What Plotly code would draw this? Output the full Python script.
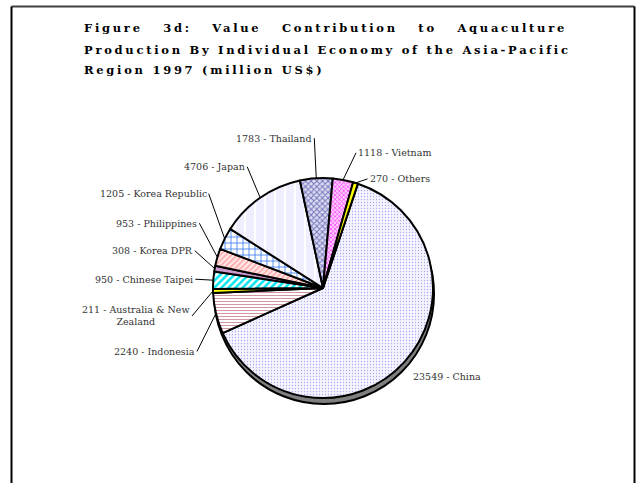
import math
import plotly.graph_objects as go

# ---------------- data ----------------
economies = ["China", "Indonesia", "Australia & New Zealand", "Chinese Taipei",
             "Korea DPR", "Philippines", "Korea Republic", "Japan",
             "Thailand", "Vietnam", "Others"]
values = [23549, 2240, 211, 950, 308, 953, 1205, 4706, 1783, 1118, 270]
title_lines = ["Figure 3d: Value Contribution to Aquaculture",
               "Production By Individual Economy of the Asia-Pacific",
               "Region 1997 (million US$)"]

# ---------------- styles ----------------
W, H = 640, 483
CX, CY, R = 323, 288, 110          # pie centre / radius in pixels
ROT = 18.5                         # start angle of first slice (deg, clockwise)

bg = ["#f4f4ff", "#ffffff", "#ffff00", "#ffffff", "#cc99cc", "#ffe6e6",
      "#ffffff", "#eeeeff", "#dcdcf4", "#ffccff", "#ffff00"]
shape = [".", "-", "", "/", "", "/", "+", "|", "x", "x", ""]
fg = ["#aaaaee", "#cc8899", "#ffff00", "#00e5ee", "#cc99cc", "#ff9999",
      "#3377ee", "#ffffff", "#7777bb", "#ff44ff", "#ffff00"]
psize = [3, 3, 8, 5, 8, 4, 6, 10, 4, 3, 8]
solid = [0.15, 0.3, 0.3, 0.5, 0.3, 0.3, 0.25, 0.2, 0.45, 0.45, 0.3]

# label offsets (pixels, text anchor relative to slice edge point)
label_style = {
    "China": dict(ax=6, ay=15, xanchor="left", arrow=False),
    "Indonesia": dict(ax=-19, ay=38, xanchor="right", arrow=True),
    "Australia & New Zealand": dict(ax=-21, ay=25, xanchor="right", arrow=True),
    "Chinese Taipei": dict(ax=-18, ay=-1, xanchor="right", arrow=True),
    "Korea DPR": dict(ax=-20, ay=-18, xanchor="right", arrow=True),
    "Philippines": dict(ax=-18, ay=-34, xanchor="right", arrow=True),
    "Korea Republic": dict(ax=-16, ay=-45, xanchor="right", arrow=True),
    "Japan": dict(ax=-13, ay=-31, xanchor="right", arrow=True),
    "Thailand": dict(ax=-2, ay=-40, xanchor="right", arrow=True),
    "Vietnam": dict(ax=13, ay=-27, xanchor="left", arrow=True),
    "Others": dict(ax=12, ay=-4, xanchor="left", arrow=True),
}
display_name = {"Australia & New Zealand": "Australia & New<br>Zealand"}

def px2paper(x, y):
    return x / W, (H - y) / H

fig = go.Figure()

# shadow pie
sx0, sy0 = px2paper(CX - R + 1, CY + R + 6)
sx1, sy1 = px2paper(CX + R + 1, CY - R + 6)
fig.add_trace(go.Pie(
    values=[sum(values)], labels=["shadow"], sort=False,
    marker=dict(colors=["#7f7f7f"], line=dict(color="#000000", width=2)),
    textinfo="none", hoverinfo="skip", showlegend=False,
    domain=dict(x=[sx0, sx1], y=[sy0, sy1]),
))

# main pie
x0, y0 = px2paper(CX - R, CY + R)
x1, y1 = px2paper(CX + R, CY - R)
fig.add_trace(go.Pie(
    labels=economies, values=values, sort=False, direction="clockwise",
    rotation=ROT,
    marker=dict(colors=bg, line=dict(color="#000000", width=2),
                pattern=dict(shape=shape, fgcolor=fg, bgcolor=bg,
                             size=psize, solidity=solid, fillmode="replace")),
    textinfo="none", showlegend=False,
    domain=dict(x=[x0, x1], y=[y0, y1]),
))

annotations = []
# title lines
title_y = [28, 50, 70]
for i, line in enumerate(title_lines):
    tx, ty = px2paper(82, title_y[i])
    annotations.append(dict(
        text=line, x=tx, y=ty, xref="paper", yref="paper",
        xanchor="left", yanchor="middle", align="left", showarrow=False,
        font=dict(family="DejaVu Serif", size=11.5, color="#000000", weight="bold"),
    ))

# slice labels
total = sum(values)
cum = 0.0
for name, v in zip(economies, values):
    mid = ROT + (cum + v / 2) / total * 360.0
    cum += v
    th = math.radians(mid)
    hx = CX + R * math.sin(th)
    hy = CY - R * math.cos(th)
    st = label_style[name]
    text = f"{v} - {display_name.get(name, name)}"
    font = dict(family="DejaVu Serif", size=9.5, color="#333333")
    if st["arrow"]:
        px, py = px2paper(hx, hy)
        annotations.append(dict(
            text=text, x=px, y=py, xref="paper", yref="paper",
            ax=st["ax"], ay=st["ay"], axref="pixel", ayref="pixel",
            xanchor=st["xanchor"], yanchor="middle", align="center",
            showarrow=True, arrowhead=0, arrowwidth=1, arrowcolor="#000000",
            standoff=0, startstandoff=0, font=font,
        ))
    else:
        px, py = px2paper(hx + st["ax"], hy + st["ay"])
        annotations.append(dict(
            text=text, x=px, y=py, xref="paper", yref="paper",
            xanchor=st["xanchor"], yanchor="middle", showarrow=False, font=font,
        ))

# frame lines
shapes = [
    dict(type="line", xref="paper", yref="paper", x0=11.5 / W, x1=634.5 / W,
         y0=(H - 6.5) / H, y1=(H - 6.5) / H, line=dict(color="#404040", width=2)),
    dict(type="line", xref="paper", yref="paper", x0=11.5 / W, x1=11.5 / W,
         y0=(H - 6.5) / H, y1=0, line=dict(color="#000000", width=2)),
    dict(type="line", xref="paper", yref="paper", x0=634.5 / W, x1=634.5 / W,
         y0=(H - 6.5) / H, y1=0, line=dict(color="#000000", width=2)),
]

fig.update_layout(
    width=W, height=H, autosize=False,
    margin=dict(l=0, r=0, t=0, b=0),
    paper_bgcolor="#ffffff", plot_bgcolor="#ffffff",
    annotations=annotations, shapes=shapes, showlegend=False,
)

post = """
document.body.style.margin = '0';
document.body.style.padding = '0';
var gd = document.getElementById('{plot_id}');
try {
  var texts = [];
  for (var i = 0; i < 3; i++) {
    var t = gd.querySelector('g.annotation[data-index="' + i + '"] text.annotation-text');
    texts.push(t);
  }
  var target = 483;
  var t2 = texts[1];
  var n2 = t2.textContent.length;
  var ls = (target - t2.getComputedTextLength()) / (n2 - 1);
  if (ls < 0) ls = 0;
  texts.forEach(function(t){ t.style.letterSpacing = ls + 'px'; });
  var t1 = texts[0];
  var words = t1.textContent.split(' ').length;
  var len1 = t1.getComputedTextLength();
  var ws = (target - len1) / (words - 1);
  if (ws > 0) t1.style.wordSpacing = ws + 'px';
} catch (e) {}
"""

fig.write_html("out.html", post_script=post, config={"displayModeBar": False})
